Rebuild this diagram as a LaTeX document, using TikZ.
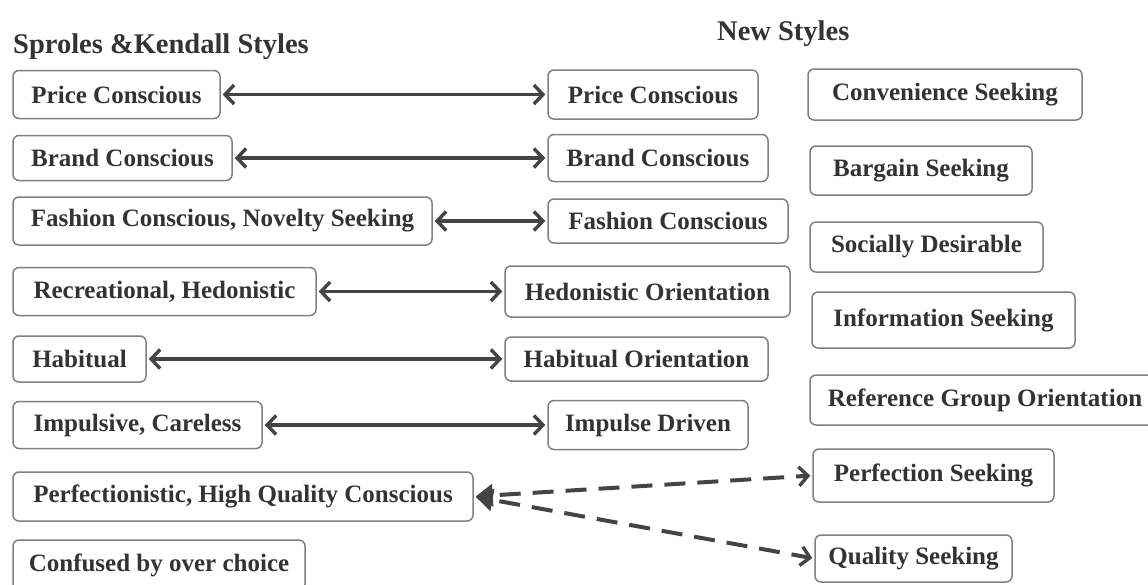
\documentclass[tikz,border=0pt]{standalone}
\usepackage{fontspec}
\setmainfont{Liberation Serif}
\usepackage{tikz}
\usetikzlibrary{arrows.meta}

\definecolor{txtgray}{HTML}{333333}
\definecolor{boxgray}{HTML}{808080}
\definecolor{arrgray}{HTML}{444444}

\begin{document}
\begin{tikzpicture}[x=1pt,y=-1pt,
    box/.style={draw=boxgray,line width=1.5pt,rounded corners=6pt,inner xsep=4pt,
      text=txtgray,font=\fontsize{25}{30}\selectfont\bfseries},
    heading/.style={anchor=base west,inner sep=0pt,text=txtgray,
      font=\fontsize{28.5}{34}\selectfont\bfseries},
    >={Straight Barb[length=9pt,width=19pt,line width=3.4pt]},
    link/.style={draw=arrgray,line width=3.4pt,<->,shorten <=2pt,shorten >=2pt},
    dlink/.style={draw=arrgray,line width=4pt,dash pattern=on 21pt off 12pt,dash phase=25pt,
      {Triangle[length=17pt,width=22pt]}->,shorten <=2pt,shorten >=2pt}]
  \clip (0,0) rectangle (1148,584);
  \fill[white] (0,0) rectangle (1148,584);
  \node[heading] (sk) at (13,53) {Sproles \&Kendall Styles};
  \node[heading] (ns) at (717,40) {New Styles};

  \node[box,minimum width=207,minimum height=48] (lprice) at (116.5,94.5) {Price Conscious};
  \node[box,minimum width=219,minimum height=45] (lbrand) at (122.5,158) {Brand Conscious};
  \node[box,minimum width=419,minimum height=48] (lfashion) at (222.5,221) {Fashion Conscious, Novelty Seeking};
  \node[box,minimum width=303,minimum height=48] (lrecr) at (164.5,291.5) {Recreational, Hedonistic};
  \node[box,minimum width=133,minimum height=46] (lhabit) at (79.5,359) {Habitual};
  \node[box,minimum width=249,minimum height=47] (limpul) at (137.5,425) {Impulsive, Careless};
  \node[box,minimum width=460,minimum height=49] (lperf) at (243,496.5) {Perfectionistic, High Quality Conscious};
  \node[box,minimum width=292,minimum height=50] (lconf) at (159,565) {Confused by over choice};

  \node[box,minimum width=210,minimum height=49] (mprice) at (653,94.5) {Price Conscious};
  \node[box,minimum width=220,minimum height=47] (mbrand) at (658,158) {Brand Conscious};
  \node[box,minimum width=240,minimum height=44] (mfashion) at (668,221) {Fashion Conscious};
  \node[box,minimum width=285,minimum height=51] (mhedon) at (647.5,291.5) {Hedonistic Orientation};
  \node[box,minimum width=263,minimum height=44] (mhabit) at (636.5,359) {Habitual Orientation};
  \node[box,minimum width=200,minimum height=49] (mimpul) at (648,425) {Impulse Driven};

  \node[box,minimum width=274,minimum height=51] (rconv) at (945,94.5) {Convenience Seeking};
  \node[box,minimum width=222,minimum height=49] (rbarg) at (921,170.5) {Bargain Seeking};
  \node[box,minimum width=233,minimum height=50] (rsoc) at (926.5,247) {Socially Desirable};
  \node[box,minimum width=263,minimum height=56] (rinfo) at (943.5,320) {Information Seeking};
  \node[box,minimum width=350,minimum height=50] (rref) at (985,400) {Reference Group Orientation};
  \node[box,minimum width=241,minimum height=53] (rperf) at (933.5,475.5) {Perfection Seeking};
  \node[box,minimum width=197,minimum height=47] (rqual) at (913.5,558.5) {Quality Seeking};

  \draw[link] (lprice) -- (mprice);
  \draw[link] (lbrand) -- (mbrand);
  \draw[link] (lfashion) -- (mfashion);
  \draw[link] (lrecr) -- (mhedon);
  \draw[link] (lhabit) -- (mhabit);
  \draw[link] (limpul) -- (mimpul);
  \draw[dlink] (lperf.east) -- (rperf.west);
  \draw[dlink] (lperf.east) -- (rqual.west);
\end{tikzpicture}
\end{document}
